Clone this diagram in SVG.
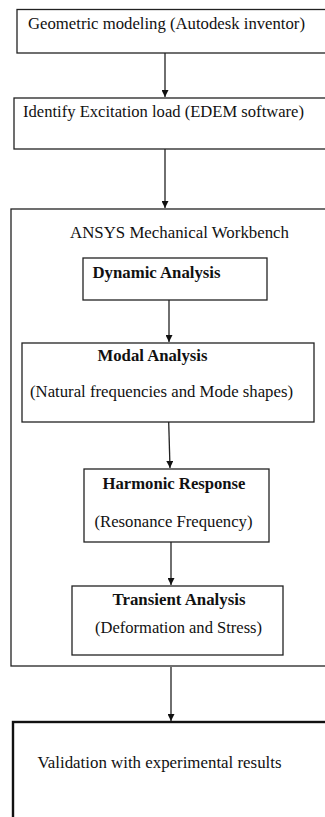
<svg xmlns="http://www.w3.org/2000/svg" width="325" height="817" viewBox="0 0 325 817">
  <style>
    text { font-family: "Liberation Serif", "Times New Roman", serif; font-size: 16.5px; fill: #111; }
    .b { font-weight: bold; }
    .box { fill: #fff; stroke: #222; stroke-width: 1.3; }
    .thick { fill: #fff; stroke: #111; stroke-width: 2.4; }
    .edge { fill: none; stroke: #222; stroke-width: 1.3; }
  </style>
  <defs>
    <marker id="arrow" viewBox="0 0 10 10" refX="10" refY="5" markerWidth="7" markerHeight="7" markerUnits="userSpaceOnUse" orient="auto">
      <path d="M0,0 L10,5 L0,10 Z" fill="#111"/>
    </marker>
  </defs>
  <rect width="325" height="817" fill="#fff"/>

  <g id="geometric">
    <rect class="box" x="17" y="9.5" width="320" height="43.5"/>
    <text x="28" y="29" textLength="277" lengthAdjust="spacingAndGlyphs">Geometric modeling (Autodesk inventor)</text>
  </g>

  <g id="excitation">
    <rect class="box" x="14" y="98" width="320" height="51"/>
    <text x="23" y="117" textLength="281" lengthAdjust="spacingAndGlyphs">Identify Excitation load (EDEM software)</text>
  </g>

  <g id="ansys">
    <rect class="box" x="11" y="209" width="330" height="457"/>
    <text x="70" y="238" textLength="219" lengthAdjust="spacingAndGlyphs">ANSYS Mechanical Workbench</text>
  </g>

  <g id="dynamic">
    <rect class="box" x="83" y="258" width="184" height="42"/>
    <text class="b" x="92.5" y="278" textLength="128" lengthAdjust="spacingAndGlyphs">Dynamic Analysis</text>
  </g>

  <g id="modal">
    <rect class="box" x="22" y="343" width="292" height="79"/>
    <text class="b" x="97.5" y="361" textLength="110" lengthAdjust="spacingAndGlyphs">Modal Analysis</text>
    <text x="30" y="397" textLength="263" lengthAdjust="spacingAndGlyphs">(Natural frequencies and Mode shapes)</text>
  </g>

  <g id="harmonic">
    <rect class="box" x="84" y="469" width="185" height="73"/>
    <text class="b" x="102.5" y="489" textLength="143" lengthAdjust="spacingAndGlyphs">Harmonic Response</text>
    <text x="94.5" y="527" textLength="158" lengthAdjust="spacingAndGlyphs">(Resonance Frequency)</text>
  </g>

  <g id="transient">
    <rect class="box" x="72" y="586" width="211" height="69"/>
    <text class="b" x="112.5" y="605" textLength="133" lengthAdjust="spacingAndGlyphs">Transient Analysis</text>
    <text x="95" y="633" textLength="167" lengthAdjust="spacingAndGlyphs">(Deformation and Stress)</text>
  </g>

  <g id="validation">
    <rect class="thick" x="13" y="722" width="330" height="110"/>
    <text x="37.5" y="768" textLength="244" lengthAdjust="spacingAndGlyphs">Validation with experimental results</text>
  </g>

  <g id="connectors">
    <line class="edge" x1="165" y1="53" x2="165" y2="97" marker-end="url(#arrow)"/>
    <line class="edge" x1="165" y1="149" x2="165" y2="208" marker-end="url(#arrow)"/>
    <line class="edge" x1="169" y1="300" x2="169" y2="342" marker-end="url(#arrow)"/>
    <line class="edge" x1="168.7" y1="422" x2="170" y2="468" marker-end="url(#arrow)"/>
    <line class="edge" x1="171" y1="542" x2="171" y2="585" marker-end="url(#arrow)"/>
    <line class="edge" x1="171" y1="667" x2="171" y2="721" marker-end="url(#arrow)"/>
  </g>
</svg>
